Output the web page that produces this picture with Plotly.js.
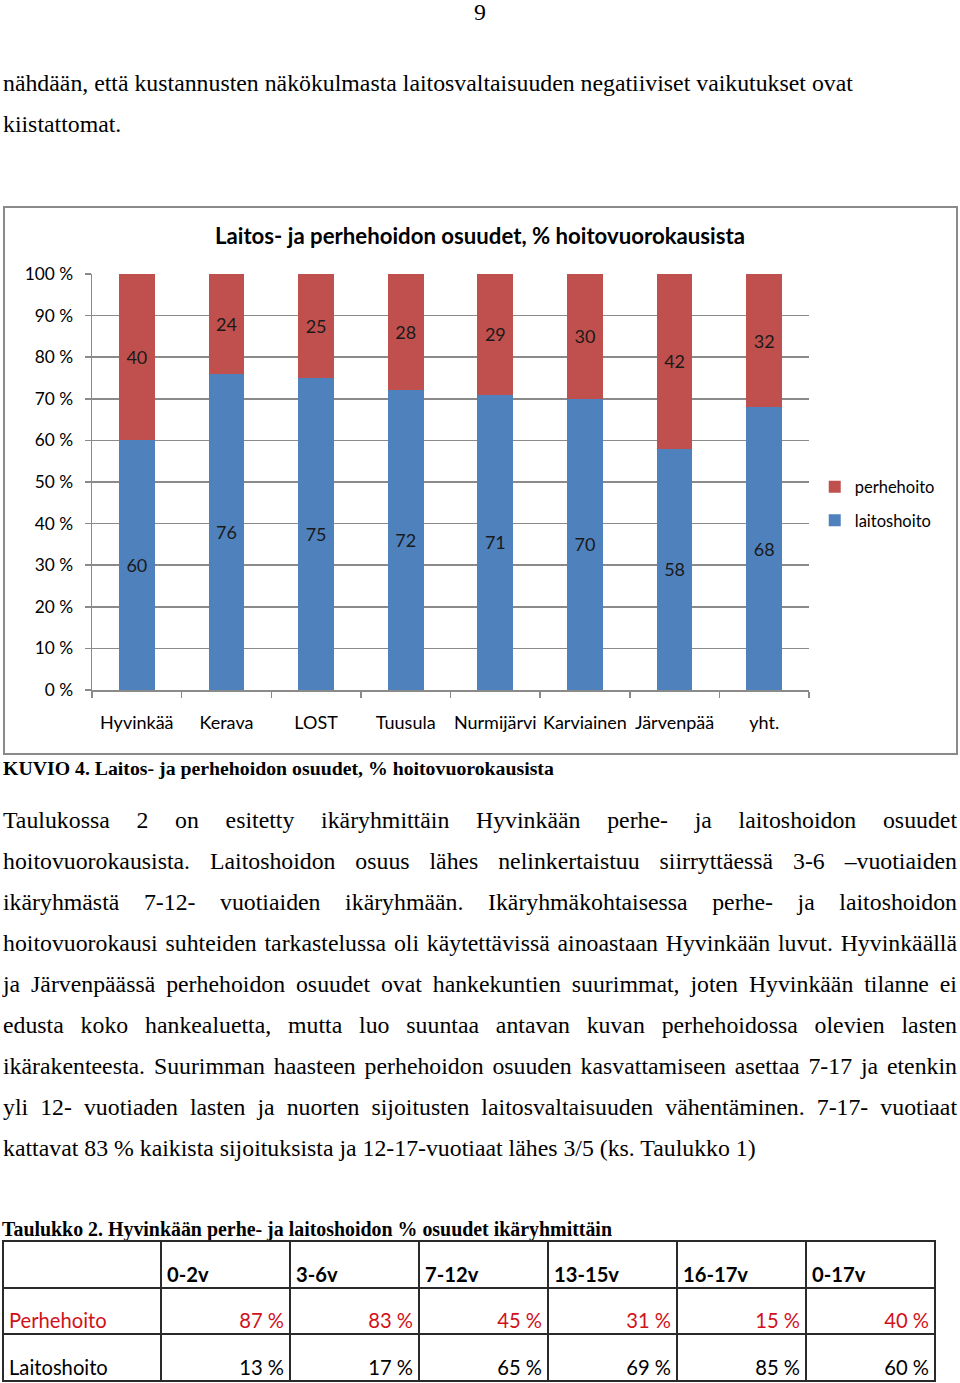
<!DOCTYPE html>
<html>
<head>
<meta charset="utf-8">
<script src="https://cdn.plot.ly/plotly-3.0.1.min.js"></script>
<style>
  html, body { margin: 0; padding: 0; background: #fff; }
  body { width: 960px; height: 1383px; position: relative; overflow: hidden; font-family: "Liberation Serif", "Times New Roman", serif; color: #000; }
  .abs { position: absolute; white-space: nowrap; }
  .pline { position: absolute; left: 3px; width: 954px; font-size: 23.8px; line-height: 27px; text-align: justify; text-align-last: justify; white-space: normal; }
  .pline.last { text-align-last: left; }
  #chartbox { position: absolute; left: 3px; top: 206px; width: 951px; height: 545px; border: 2px solid #8a8a8a; }
  #chart { position: absolute; left: 0px; top: 206px; width: 960px; height: 550px; }
  table.t2 { position: absolute; left: 2px; top: 1240px; border-collapse: collapse; font-family: Lato, "Open Sans", sans-serif; font-size: 20.2px; }
  table.t2 td { border: 2px solid #2a2a2a; height: 46.5px; padding: 0 5px 2px 5px; vertical-align: bottom; line-height: 22px; box-sizing: border-box; }
</style>
</head>
<body>
<div class="abs" style="left:0;width:960px;text-align:center;top:-1.5px;font-size:23.8px;line-height:27px;">9</div>
<div class="abs" style="left:3px;top:69.5px;font-size:23.8px;line-height:27px;">nähdään, että kustannusten näkökulmasta laitosvaltaisuuden negatiiviset vaikutukset ovat</div>
<div class="abs" style="left:3px;top:110.5px;font-size:23.8px;line-height:27px;">kiistattomat.</div>

<div id="chartbox"></div>
<div id="chart"></div>

<div class="abs" style="left:3px;top:756.5px;font-size:19.8px;line-height:23px;font-weight:bold;">KUVIO 4. Laitos- ja perhehoidon osuudet, % hoitovuorokausista</div>

<div id="para"></div>

<div class="abs" style="left:2px;top:1217.5px;font-size:19.9px;line-height:23px;font-weight:bold;">Taulukko 2. Hyvinkään perhe- ja laitoshoidon % osuudet ikäryhmittäin</div>
<div id="tablewrap"></div>

<script>
// ---- Chart data ----
const municipalities = ["Hyvinkää", "Kerava", "LOST", "Tuusula", "Nurmijärvi", "Karviainen", "Järvenpää", "yht."];
const laitoshoito = [60, 76, 75, 72, 71, 70, 58, 68];
const perhehoito = [40, 24, 25, 28, 29, 30, 42, 32];
const yTickVals = [0, 10, 20, 30, 40, 50, 60, 70, 80, 90, 100];
const yTickText = ["0 %", "10 %", "20 %", "30 %", "40 %", "50 %", "60 %", "70 %", "80 %", "90 %", "100 %"];

// ---- Table data ----
const ageGroups = ["0-2v", "3-6v", "7-12v", "13-15v", "16-17v", "0-17v"];
const perheRow = ["87 %", "83 %", "45 %", "31 %", "15 %", "40 %"];
const laitosRow = ["13 %", "17 %", "65 %", "69 %", "85 %", "60 %"];

// ---- Paragraph lines ----
const paraLines = [
  "Taulukossa 2 on esitetty ikäryhmittäin Hyvinkään perhe- ja laitoshoidon osuudet",
  "hoitovuorokausista. Laitoshoidon osuus lähes nelinkertaistuu siirryttäessä 3-6 –vuotiaiden",
  "ikäryhmästä 7-12- vuotiaiden ikäryhmään. Ikäryhmäkohtaisessa perhe- ja laitoshoidon",
  "hoitovuorokausi suhteiden tarkastelussa oli käytettävissä ainoastaan Hyvinkään luvut. Hyvinkäällä",
  "ja Järvenpäässä perhehoidon osuudet ovat hankekuntien suurimmat, joten Hyvinkään tilanne ei",
  "edusta koko hankealuetta, mutta luo suuntaa antavan kuvan perhehoidossa olevien lasten",
  "ikärakenteesta. Suurimman haasteen perhehoidon osuuden kasvattamiseen asettaa 7-17 ja etenkin",
  "yli 12- vuotiaden lasten ja nuorten sijoitusten laitosvaltaisuuden vähentäminen. 7-17- vuotiaat",
  "kattavat 83 % kaikista sijoituksista ja 12-17-vuotiaat lähes 3/5 (ks. Taulukko 1)"
];

const para = document.getElementById('para');
paraLines.forEach((t, i) => {
  const d = document.createElement('div');
  d.className = 'pline' + (i === paraLines.length - 1 ? ' last' : '');
  d.style.top = (806.5 + i * 41.1) + 'px';
  d.textContent = t;
  para.appendChild(d);
});

// table
let html = '<table class="t2"><tr><td style="width:158px"></td>';
ageGroups.forEach(g => { html += '<td style="width:129px;font-weight:bold;text-align:left">' + g + '</td>'; });
html += '</tr><tr><td style="color:#d0121b">Perhehoito</td>';
perheRow.forEach(v => { html += '<td style="text-align:right;color:#d0121b">' + v + '</td>'; });
html += '</tr><tr><td>Laitoshoito</td>';
laitosRow.forEach(v => { html += '<td style="text-align:right">' + v + '</td>'; });
html += '</tr></table>';
document.getElementById('tablewrap').innerHTML = html;

const fontFam = "Lato, 'Open Sans', sans-serif";
const traces = [
  { type: 'bar', name: 'laitoshoito', x: municipalities, y: laitoshoito, text: laitoshoito.map(String),
    textposition: 'inside', insidetextanchor: 'middle', textangle: 0,
    textfont: { family: fontFam, size: 18, color: '#1a1a1a' },
    marker: { color: '#4F81BD' }, legendgroup: 'a', legendrank: 2, hoverinfo: 'none' },
  { type: 'bar', name: 'perhehoito', x: municipalities, y: perhehoito, text: perhehoito.map(String),
    textposition: 'inside', insidetextanchor: 'middle', textangle: 0,
    textfont: { family: fontFam, size: 18, color: '#1a1a1a' },
    marker: { color: '#C0504D' }, legendgroup: 'b', legendrank: 1, hoverinfo: 'none' }
];
const layout = {
  width: 960, height: 550,
  margin: { l: 92, r: 151, t: 68, b: 66 },
  paper_bgcolor: 'rgba(0,0,0,0)', plot_bgcolor: '#fff',
  barmode: 'stack', bargap: 0.6,
  font: { family: fontFam, size: 17, color: '#000' },
  title: { text: '<b>Laitos- ja perhehoidon osuudet, % hoitovuorokausista</b>', x: 0.5, xref: 'container', xanchor: 'center',
           y: 1 - 30 / 550, yref: 'container', yanchor: 'middle', font: { family: fontFam, size: 22.2, color: '#000' } },
  xaxis: { type: 'category', showline: true, linecolor: '#8a8a8a', linewidth: 1.5, ticks: 'outside', tickson: 'boundaries',
           ticklen: 6, tickcolor: '#8a8a8a', tickwidth: 1.5, showgrid: false, tickfont: { size: 18 }, fixedrange: true,
           tickangle: 0, ticklabelstandoff: 16 },
  yaxis: { range: [0, 100], tickvals: yTickVals, ticktext: yTickText, showline: true, linecolor: '#8a8a8a', linewidth: 1.5,
           ticks: 'outside', ticklen: 6, tickcolor: '#8a8a8a', tickwidth: 1.5, gridcolor: '#8a8a8a', gridwidth: 1.5,
           tickfont: { size: 17.3 }, zeroline: false, fixedrange: true, ticklabelstandoff: 8 },
  showlegend: true,
  legend: { x: 1.008, y: 0.530, xanchor: 'left', yanchor: 'top', traceorder: 'grouped', tracegroupgap: 9,
            font: { size: 16.5 }, bgcolor: 'rgba(0,0,0,0)' }
};
Plotly.newPlot('chart', traces, layout, { displayModeBar: false, staticPlot: true });
</script>
</body>
</html>
